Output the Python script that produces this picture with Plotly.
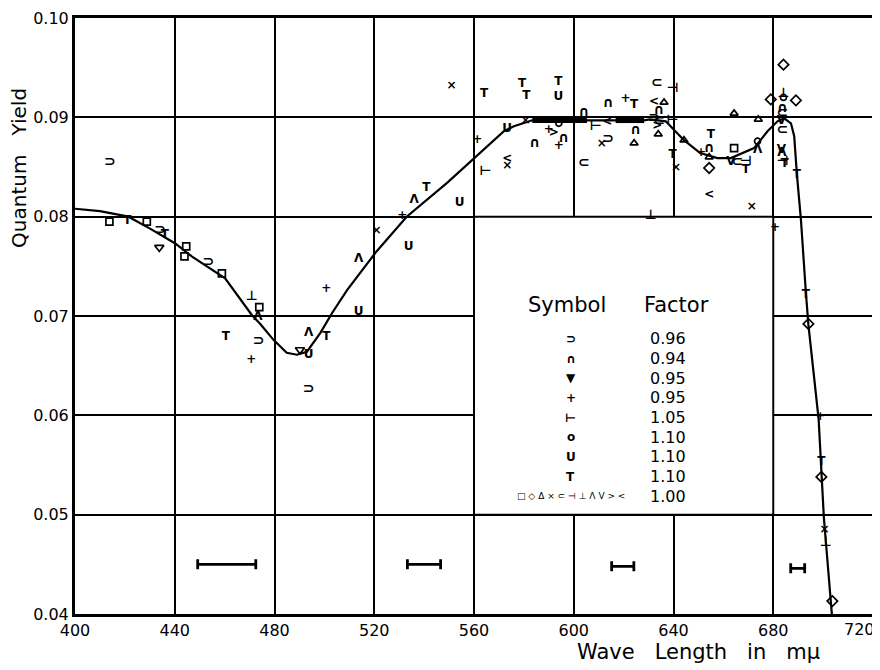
import plotly.graph_objects as go

# ---------------- axis ticks ----------------
X_TICKS = [400, 440, 480, 520, 560, 600, 640, 680, 720]
X_TICK_LABELS = ["400", "440", "480", "520", "560", "600", "640", "680", ""]
Y_TICKS = [0.04, 0.05, 0.06, 0.07, 0.08, 0.09, 0.10]
Y_TICK_LABELS = ["0.04", "0.05", "0.06", "0.07", "0.08", "0.09", "0.10"]

# ---------------- data points per symbol ----------------
cupR_x = [414.0, 434.1, 453.5, 473.6, 493.7, 613.8, 632.2]
cupR_y = [0.0855, 0.0786, 0.0754, 0.0674, 0.0626, 0.0878, 0.0899]

cap_x = [584.3, 596.0, 604.1, 613.8, 624.8, 634.2, 654.3, 683.7]
cap_y = [0.0874, 0.0879, 0.0905, 0.0914, 0.0887, 0.0907, 0.0869, 0.0909]

tri_dn_x = [433.8, 490.2]
tri_dn_y = [0.0769, 0.0666]

plus_x = [470.7, 500.8, 531.2, 561.3, 590.0, 594.0, 620.8, 651.0, 680.7, 698.9]
plus_y = [0.0656, 0.0727, 0.0801, 0.0877, 0.0887, 0.0871, 0.0918, 0.0864, 0.0789, 0.0598]

tack_r_x = [564.6, 608.8, 639.6]
tack_r_y = [0.0845, 0.0891, 0.0897]

circ_x = [594.0, 673.7, 684.1]
circ_y = [0.0894, 0.0876, 0.0920]

cup_x = [493.7, 513.7, 533.8, 554.2, 573.3, 593.8]
cup_y = [0.0661, 0.0704, 0.0769, 0.0814, 0.0888, 0.0920]

tee_x = [421.0, 436.0, 460.5, 500.8, 540.9, 564.0, 579.3, 581.0, 593.8, 624.2,
         639.6, 655.0, 669.0, 684.5, 689.5, 693.1, 699.3]
tee_y = [0.0796, 0.0782, 0.0679, 0.0679, 0.0829, 0.0923, 0.0934, 0.0921, 0.0936, 0.0912,
         0.0862, 0.0882, 0.0847, 0.0853, 0.0842, 0.0721, 0.0553]

sq_x = [413.8, 428.8, 444.6, 443.9, 458.9, 473.9, 664.3]
sq_y = [0.0795, 0.0795, 0.0770, 0.0760, 0.0743, 0.0709, 0.0869]

dia_x = [654.3, 679.0, 684.1, 689.1, 694.1, 699.3, 703.7]
dia_y = [0.0849, 0.0918, 0.0953, 0.0917, 0.0692, 0.0538, 0.0413]

delta_x = [624.2, 633.9, 636.2, 644.2, 654.3, 664.3, 674.0]
delta_y = [0.0874, 0.0883, 0.0915, 0.0877, 0.0860, 0.0904, 0.0898]

cross_x = [520.9, 551.0, 573.3, 580.7, 611.2, 641.0, 671.4, 700.6]
cross_y = [0.0786, 0.0932, 0.0851, 0.0896, 0.0873, 0.0849, 0.0810, 0.0485]

subset_x = [604.1, 633.3, 634.2, 665.6, 683.7, 683.7]
subset_y = [0.0854, 0.0934, 0.0896, 0.0855, 0.0904, 0.0887]

tack_l_x = [639.6, 669.0, 683.7]
tack_l_y = [0.0929, 0.0855, 0.0855]

perp_x = [470.9, 630.9, 701.0, 684.1]
perp_y = [0.0719, 0.0801, 0.0472, 0.0924]

lam_x = [473.3, 493.7, 513.7, 536.0, 673.7, 683.5]
lam_y = [0.0699, 0.0683, 0.0757, 0.0817, 0.0867, 0.0864]

vee_x = [663.0, 683.3, 683.3]
vee_y = [0.0855, 0.0896, 0.0867]

gt_x = [592.0, 633.5]
gt_y = [0.0884, 0.0891]

lt_x = [573.3, 613.4, 632.2, 654.3]
lt_y = [0.0858, 0.0895, 0.0915, 0.0822]

# ---------------- fitted curve ----------------
curve_x = [400.0, 410.0, 421.4, 430.1, 440.2, 446.8, 460.2, 470.9, 474.3, 479.6,
           484.9, 489.0, 493.0, 498.4, 503.1, 509.1, 520.9, 533.0, 549.2, 561.3,
           572.0, 576.0, 583.4, 605.3, 616.8, 628.2, 630.5, 636.9, 644.2, 650.7,
           657.6, 663.0, 672.3, 677.7, 681.7, 684.4, 687.1, 688.4, 689.5, 691.1,
           693.1, 694.1, 698.2, 700.3, 703.7]
curve_y = [0.0808, 0.08055, 0.0800, 0.0788, 0.0773, 0.0760, 0.0738, 0.0701, 0.0692, 0.0676,
           0.0663, 0.0661, 0.0664, 0.0683, 0.0703, 0.0726, 0.0765, 0.0800, 0.0834, 0.0862,
           0.0886, 0.0891, 0.0897, 0.0897, 0.0897, 0.0897, 0.0898, 0.0896, 0.0877, 0.0864,
           0.0859, 0.0859, 0.0869, 0.0886, 0.0896, 0.0899, 0.0894, 0.0881, 0.0842, 0.0797,
           0.0723, 0.0691, 0.0596, 0.0497, 0.0394]

flat_x = [583.4, 605.3, None, 616.8, 628.2]
flat_y = [0.0897, 0.0897, None, 0.0897, 0.0897]

# ---------------- band-width markers ----------------
band_lo = [449.2, 533.3, 615.2, 687.0]
band_hi = [472.5, 546.6, 624.1, 692.6]
band_y = [0.0450, 0.0450, 0.0448, 0.0446]

# ---------------- legend table ----------------
LEGEND_SYMBOLS = ["⊃", "∩", "▼", "+", "⊢", "o", "U", "T",
                  "□ ◇ Δ × ⊂ ⊣ ⊥ Λ V > <"]
LEGEND_FACTORS = ["0.96", "0.94", "0.95", "0.95", "1.05", "1.10", "1.10", "1.10", "1.00"]

FONT = "DejaVu Sans"

text_series = [
    ("⊃", 14, cupR_x, cupR_y), ("∩", 14, cap_x, cap_y),
    ("+", 12, plus_x, plus_y), ("⊢", 13, tack_r_x, tack_r_y),
    ("U", 12, cup_x, cup_y), ("T", 12, tee_x, tee_y),
    ("×", 12, cross_x, cross_y),
    ("⊂", 14, subset_x, subset_y), ("⊣", 13, tack_l_x, tack_l_y), ("⊥", 13, perp_x, perp_y),
    ("Λ", 12, lam_x, lam_y), ("V", 12, vee_x, vee_y), (">", 12, gt_x, gt_y), ("<", 12, lt_x, lt_y),
]
marker_series = [
    ("square-open", 7, sq_x, sq_y),
    ("diamond-open", 8, dia_x, dia_y),
    ("triangle-up-open", 7, delta_x, delta_y),
    ("triangle-down-open", 8, tri_dn_x, tri_dn_y),
    ("circle-open", 6, circ_x, circ_y),
]

# the page body adds an 8px margin around the figure
PAGE_PAD = 8

fig = go.Figure()

fig.add_trace(go.Scatter(x=curve_x, y=curve_y, mode="lines",
                         line=dict(color="black", width=2.2), hoverinfo="skip"))
fig.add_trace(go.Scatter(x=flat_x, y=flat_y, mode="lines",
                         line=dict(color="black", width=5.5), hoverinfo="skip"))

band_c = [(a + b) / 2 for a, b in zip(band_lo, band_hi)]
band_h = [(b - a) / 2 for a, b in zip(band_lo, band_hi)]
fig.add_trace(go.Scatter(x=band_c, y=band_y, mode="markers",
                         marker=dict(size=1, color="rgba(0,0,0,0)"),
                         error_x=dict(type="data", array=band_h, symmetric=True,
                                      color="black", thickness=2.8, width=5),
                         hoverinfo="skip"))

for sym, size, xs, ys in marker_series:
    fig.add_trace(go.Scatter(x=xs, y=ys, mode="markers",
                             marker=dict(symbol=sym, size=size, color="black",
                                         line=dict(color="black", width=1.7)),
                             hoverinfo="skip"))

for ch, fs, xs, ys in text_series:
    fig.add_trace(go.Scatter(x=xs, y=ys, mode="text", text=[ch] * len(xs),
                             textposition="middle center",
                             textfont=dict(family=FONT, size=fs, color="black", weight="bold"),
                             hoverinfo="skip"))

# white legend panel covering the grid cells
fig.add_shape(type="rect", x0=560, x1=680, y0=0.05, y1=0.08, xref="x", yref="y",
              fillcolor="white", line=dict(color="black", width=2), layer="between")

annotations = []
annotations.append(dict(x=597.1, y=0.0711, xref="x", yref="y", text="Symbol",
                        showarrow=False, font=dict(family=FONT, size=21, color="black"),
                        xanchor="center", yanchor="middle"))
annotations.append(dict(x=627.4, y=0.0711, xref="x", yref="y", text="Factor",
                        showarrow=False, font=dict(family=FONT, size=21, color="black"),
                        xanchor="left", yanchor="middle"))
row_top = 0.0677
row_step = 0.00198
last = len(LEGEND_SYMBOLS) - 1
for i, (s, f) in enumerate(zip(LEGEND_SYMBOLS, LEGEND_FACTORS)):
    yy = row_top - i * row_step
    if i == last:
        sfont = dict(family=FONT, size=9, color="black")
    else:
        sfont = dict(family=FONT, size=12, color="black", weight="bold")
    annotations.append(dict(x=598.7, y=yy, xref="x", yref="y", text=s, showarrow=False,
                            font=sfont, xanchor="center", yanchor="middle"))
    annotations.append(dict(x=645.9, y=yy, xref="x", yref="y", text=f, showarrow=False,
                            font=dict(family=FONT, size=16, color="black"),
                            xanchor="right", yanchor="middle"))

# last x tick label (kept inside the canvas as in the original)
annotations.append(dict(x=0.983, y=-0.0268, xref="paper", yref="paper", text="720",
                        showarrow=False, font=dict(family=FONT, size=16, color="black"),
                        xanchor="center", yanchor="middle"))
# axis titles
annotations.append(dict(x=0.6266, y=-0.0638, xref="paper", yref="paper",
                        text="Wave   Length   in   mμ", showarrow=False,
                        font=dict(family=FONT, size=21, color="black"),
                        xanchor="left", yanchor="middle"))
annotations.append(dict(x=-0.0705, y=0.748, xref="paper", yref="paper",
                        text="Quantum   Yield", showarrow=False, textangle=-90,
                        font=dict(family=FONT, size=20, color="black"),
                        xanchor="center", yanchor="middle"))

fig.update_layout(
    width=880 - PAGE_PAD, height=670 - PAGE_PAD,
    margin=dict(l=75 - PAGE_PAD, r=7, t=18 - PAGE_PAD, b=56),
    paper_bgcolor="white", plot_bgcolor="white",
    showlegend=False,
    annotations=annotations,
    font=dict(family=FONT, color="black"),
)
fig.update_xaxes(range=[400, 720], tickvals=X_TICKS, ticktext=X_TICK_LABELS,
                 showgrid=True, gridcolor="black", gridwidth=2, zeroline=False,
                 showline=True, linecolor="black", linewidth=3, mirror=True,
                 ticks="", tickfont=dict(family=FONT, size=16, color="black"),
                 automargin=False)
fig.update_yaxes(range=[0.04, 0.10], tickvals=Y_TICKS, ticktext=Y_TICK_LABELS,
                 showgrid=True, gridcolor="black", gridwidth=2, zeroline=False,
                 showline=True, linecolor="black", linewidth=3, mirror=True,
                 ticks="", tickfont=dict(family=FONT, size=16, color="black"),
                 automargin=False)

fig.write_html("out.html")
